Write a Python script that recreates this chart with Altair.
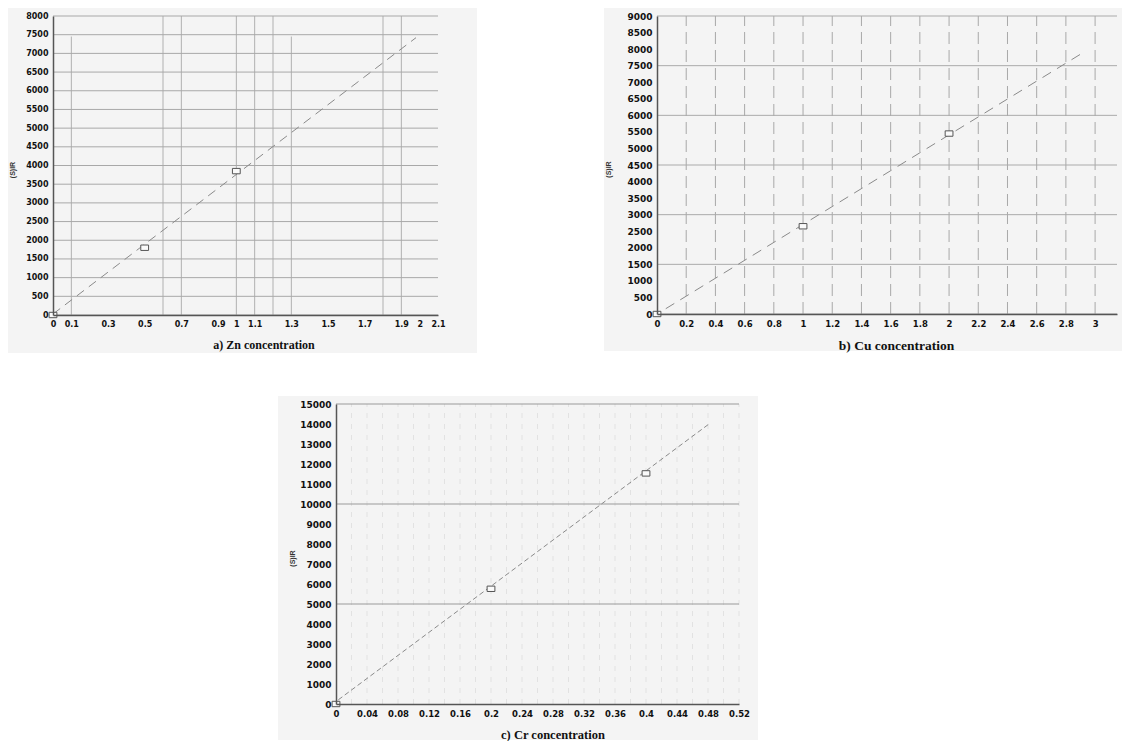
import altair as alt
import pandas as pd

# ---------------- data ----------------
# a) Zn
zn_conc = [0.0, 0.5, 1.0]
zn_signal = [0, 1800, 3850]
zn_fit_x = [0.0, 1.98]
zn_fit_y = [26, 7420]
zn_xticks = [0, 0.1, 0.3, 0.5, 0.7, 0.9, 1, 1.1, 1.3, 1.5, 1.7, 1.9, 2, 2.1]
zn_yticks = [v * 500 for v in range(17)]
zn_hgrid = [v * 500 for v in range(17)]
zn_vgrid = [0.1, 0.6, 0.7, 1.0, 1.1, 1.2, 1.3, 1.8, 1.9]
zn_vgrid_top = [7450, 8000, 8000, 8000, 8000, 8000, 7450, 8000, 8000]

# b) Cu
cu_conc = [0.0, 1.0, 2.0]
cu_signal = [0, 2650, 5450]
cu_fit_x = [0.06, 2.92]
cu_fit_y = [160, 7900]
cu_xticks = [round(i * 0.2, 1) for i in range(16)]
cu_yticks = [v * 500 for v in range(19)]
cu_hgrid = [0, 1500, 3000, 4500, 6000, 7500, 9000]
cu_vgrid = [round(i * 0.2, 1) for i in range(1, 16)]
cu_vgrid_top = [9000] * 15

# c) Cr
cr_conc = [0.0, 0.2, 0.4]
cr_signal = [0, 5760, 11530]
cr_fit_x = [0.003, 0.483]
cr_fit_y = [210, 14050]
cr_xticks = [round(i * 0.04, 2) for i in range(14)]
cr_yticks = [v * 1000 for v in range(16)]
cr_hgrid = [5000, 10000, 15000]
cr_vgrid = [round(i * 0.02, 2) for i in range(1, 27)]
cr_vgrid_top = [15000] * 26


def panel(conc, signal, fit_x, fit_y, xticks, yticks, hgrid, vgrid, vgrid_top,
          xdom, ydom, w, h, xtitle, title_dx, title_dy, ytitle_x,
          xlab_size, ylab_size, xtitle_size, bg_box, hcolor, vcolor, vdash,
          fitdash):
    xaxis = alt.Axis(values=xticks, format="~g", grid=False, ticks=False,
                     domainColor="#555", domainWidth=1.5, zindex=1,
                     labelFont="DejaVu Sans", labelFontWeight="bold",
                     labelFontSize=xlab_size, labelColor="#111",
                     labelPadding=5, labelFlush=False, labelOverlap=False,
                     title=xtitle, titleFont="Liberation Serif",
                     titleFontSize=xtitle_size, titleFontWeight="bold",
                     titleColor="#111", titleX=w / 2 + title_dx, titleY=title_dy,
                     titleBaseline="middle")
    yaxis = alt.Axis(values=yticks, format="d", grid=False, ticks=False,
                     domainColor="#555", domainWidth=1.5, zindex=1,
                     labelFont="DejaVu Sans", labelFontWeight="bold",
                     labelFontSize=ylab_size, labelColor="#111",
                     labelPadding=5, labelFlush=False, labelOverlap=False,
                     title="(S)IR", titleFont="Liberation Sans",
                     titleFontSize=7, titleFontWeight="bold", titleColor="#333",
                     titleX=ytitle_x, titleY=h / 2 + 4, titleBaseline="middle")
    xs = alt.Scale(domain=xdom, nice=False, zero=False)
    ys = alt.Scale(domain=ydom, nice=False, zero=False)

    def X(f):
        return alt.X(f, type="quantitative", scale=xs, axis=xaxis)

    def Y(f):
        return alt.Y(f, type="quantitative", scale=ys, axis=yaxis)

    x0, x1, y0, y1 = bg_box
    bg = alt.Chart(pd.DataFrame({"k": [0]})).mark_rect(fill="#f4f4f4").encode(
        x=alt.value(x0), x2=alt.value(w + x1), y=alt.value(y0), y2=alt.value(h + y1))

    hg = alt.Chart(pd.DataFrame({"yv": hgrid})).mark_rule(
        color=hcolor, strokeWidth=1).encode(y=Y("yv"))

    vg = alt.Chart(pd.DataFrame({"xv": vgrid, "top": vgrid_top, "bot": [0] * len(vgrid)})
                   ).mark_rule(color=vcolor, strokeWidth=1, strokeDash=vdash).encode(
        x=X("xv"), y=Y("bot"), y2="top:Q")

    fit = alt.Chart(pd.DataFrame({"fx": fit_x, "fy": fit_y})).mark_line(
        color="#8a8a8a", strokeWidth=1, strokeDash=fitdash).encode(
        x=X("fx"), y=Y("fy"))

    pts = alt.Chart(pd.DataFrame({"cx": conc, "cy": signal})).mark_point(
        shape="M-1.3,-0.9H1.3V0.9H-1.3Z", size=36, filled=True, fill="#fafafa",
        stroke="#555", strokeWidth=1, opacity=1).encode(x=X("cx"), y=Y("cy"))

    return alt.layer(bg, vg, hg, fit, pts).properties(width=w, height=h)


a = panel(zn_conc, zn_signal, zn_fit_x, zn_fit_y, zn_xticks, zn_yticks, zn_hgrid,
          zn_vgrid, zn_vgrid_top, [0, 2.1], [0, 8000], 385, 299,
          "a)  Zn concentration", 18, 29, -41, 8, 8, 12, (-45, 39, -8, 38),
          "#a8a8a8", "#b0b0b0", [1, 0], [9, 6])

b = panel(cu_conc, cu_signal, cu_fit_x, cu_fit_y, cu_xticks, cu_yticks, cu_hgrid,
          cu_vgrid, cu_vgrid_top, [0, 3.15], [0, 9000], 460, 298,
          "b) Cu concentration", 9, 31, -49, 8.5, 9, 13.5, (-53, 5, -8, 37),
          "#aaaaaa", "#a8a8a8", [12, 6], [10, 7])

c = panel(cr_conc, cr_signal, cr_fit_x, cr_fit_y, cr_xticks, cr_yticks, cr_hgrid,
          cr_vgrid, cr_vgrid_top, [0, 0.52], [0, 15000], 403, 300,
          "c) Cr concentration", 15, 30, -44, 8.5, 9, 12.5, (-58, 19, -8, 36),
          "#9a9a9a", "#e2e2e2", [5, 6], [5, 3])

spacer = alt.Chart(pd.DataFrame({"k": [0]})).mark_point(opacity=0).encode(
    x=alt.value(10), y=alt.value(5)).properties(width=225, height=10)

row1 = alt.hconcat(a, b, spacing=127)
row2 = alt.hconcat(spacer, c, spacing=0)
chart = alt.vconcat(row1, row2, spacing=43).properties(
    padding={"left": 0, "top": 0, "right": 0, "bottom": 0},
    background="white",
).configure_view(strokeWidth=0)

chart.save("out.html", embed_options={"renderer": "svg", "actions": False})
